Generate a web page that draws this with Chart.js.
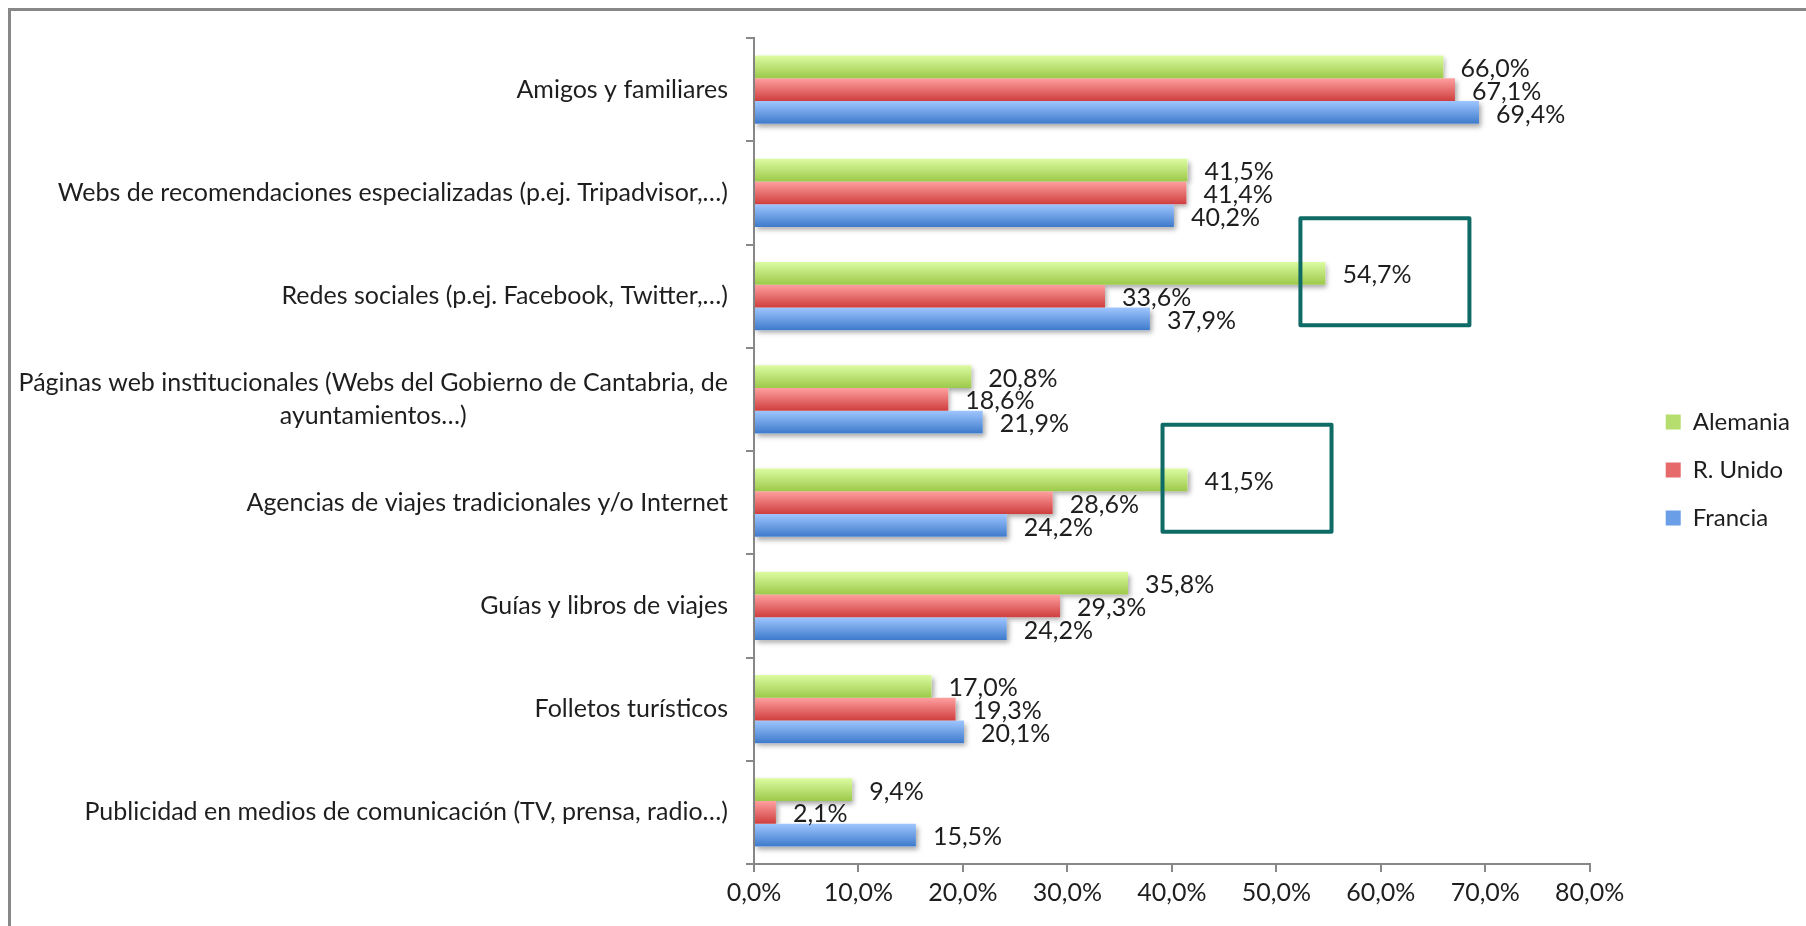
<!DOCTYPE html>
<html>
<head>
<meta charset="utf-8">
<script src="https://cdn.jsdelivr.net/npm/chart.js@4.4.1/dist/chart.umd.min.js"></script>
<style>
  html, body { margin: 0; padding: 0; background: #fff; }
  #wrap { position: relative; width: 1806px; height: 926px; overflow: hidden; }
  #marco { position: absolute; left: 8px; top: 8px; width: 1900px; height: 1000px;
           border-left: 3px solid #878787; border-top: 3px solid #878787; }
  canvas { position: absolute; left: 0; top: 0; }
</style>
</head>
<body>
<div id="wrap">
  <div id="marco"></div>
  <canvas id="grafico" width="1806" height="926"></canvas>
</div>
<script>
const categorias = [
    'Amigos y familiares',
    'Webs de recomendaciones especializadas (p.ej. Tripadvisor,…)',
    'Redes sociales (p.ej. Facebook, Twitter,…)',
    ['Páginas web institucionales (Webs del Gobierno de Cantabria, de', 'ayuntamientos…)'],
    'Agencias de viajes tradicionales y/o Internet',
    'Guías y libros de viajes',
    'Folletos turísticos',
    'Publicidad en medios de comunicación (TV, prensa, radio…)'
];
const alemania   = [66.0, 41.5, 54.7, 20.8, 41.5, 35.8, 17.0, 9.4];
const reinoUnido = [67.1, 41.4, 33.6, 18.6, 28.6, 29.3, 19.3, 2.1];
const francia    = [69.4, 40.2, 37.9, 21.9, 24.2, 24.2, 20.1, 15.5];
const ticksX = [0, 10, 20, 30, 40, 50, 60, 70, 80];
// recuadros verdes: [categoria, serie]
const destacados = [[2, 0], [4, 0]];

// degradado de cada serie: arriba claro, abajo oscuro
const degradados = [
    ['#ddfca2', '#9cc94a'],
    ['#ffa0a0', '#cf3e3e'],
    ['#9fc6ff', '#3d7acb']
];

const fmt = v => v.toFixed(1).replace('.', ',') + '%';
const TEXTO = '#1e1e1e';
const FUENTE = "Lato, 'Open Sans', sans-serif";

Chart.defaults.font.family = FUENTE;
Chart.defaults.color = TEXTO;

// sombra bajo las barras + degradado vertical por barra
const barrasPlugin = {
    id: 'barras',
    beforeDatasetsDraw(chart) {
        const ctx = chart.ctx;
        const metas = chart.getSortedVisibleDatasetMetas();
        metas.forEach(meta => {
            meta.data.forEach(el => {
                const h = el.height;
                ctx.save();
                ctx.shadowColor = 'rgba(0,0,0,0.35)';
                ctx.shadowBlur = 5;
                ctx.shadowOffsetX = 2;
                ctx.shadowOffsetY = 3;
                ctx.fillStyle = '#fff';
                ctx.fillRect(el.base, el.y - h / 2, el.x - el.base, h);
                ctx.restore();
            });
        });
        metas.forEach(meta => {
            const cols = degradados[meta.index];
            meta.data.forEach(el => {
                const g = ctx.createLinearGradient(0, el.y - el.height / 2, 0, el.y + el.height / 2);
                g.addColorStop(0, cols[0]);
                g.addColorStop(1, cols[1]);
                el.options = Object.assign({}, el.options, { backgroundColor: g });
            });
        });
    }
};

// etiquetas de valor, etiquetas del eje y y recuadros
const textosPlugin = {
    id: 'textos',
    afterDraw(chart) {
        const ctx = chart.ctx;
        const area = chart.chartArea;
        const yScale = chart.scales.y;
        ctx.save();
        ctx.fillStyle = TEXTO;
        ctx.font = '25px ' + FUENTE;
        ctx.textBaseline = 'middle';

        // valores
        ctx.textAlign = 'left';
        chart.getSortedVisibleDatasetMetas().forEach(meta => {
            const vals = chart.data.datasets[meta.index].data;
            meta.data.forEach((el, i) => {
                ctx.fillText(fmt(vals[i]), el.x + 17, el.y + 2);
            });
        });

        // categorias
        const derecha = area.left - 26;
        categorias.forEach((lab, i) => {
            const y = yScale.getPixelForValue(i);
            if (Array.isArray(lab)) {
                const ancho = Math.max(...lab.map(l => ctx.measureText(l).width));
                const cx = derecha - ancho / 2;
                const lh = 33;
                ctx.textAlign = 'center';
                lab.forEach((l, k) => {
                    ctx.fillText(l, cx, y + (k - (lab.length - 1) / 2) * lh);
                });
            } else {
                ctx.textAlign = 'right';
                ctx.fillText(lab, derecha, y);
            }
        });

        // recuadros
        ctx.strokeStyle = '#0f6b66';
        ctx.lineWidth = 4;
        ctx.lineJoin = 'round';
        destacados.forEach(([cat, serie]) => {
            const el = chart.getDatasetMeta(serie).data[cat];
            ctx.strokeRect(el.x - 25, el.y - 55, 169, 107);
        });
        ctx.restore();
    }
};

// la leyenda va separada del area de dibujo
const leyendaPlugin = {
    id: 'leyendaPos',
    afterLayout(chart) {
        const lg = chart.legend;
        const pad = lg.options.labels.padding;
        const w = lg.right - lg.left;
        lg.left = chart.chartArea.right + 76 - pad;
        lg.right = lg.left + w;
        lg.top -= 12;
        lg.bottom -= 12;
    }
};

const ctx = document.getElementById('grafico').getContext('2d');
new Chart(ctx, {
    type: 'bar',
    data: {
        labels: categorias,
        datasets: [
            { label: 'Alemania', data: alemania, backgroundColor: '#b5de6e' },
            { label: 'R. Unido', data: reinoUnido, backgroundColor: '#e66a6a' },
            { label: 'Francia', data: francia, backgroundColor: '#6a9ee6' }
        ]
    },
    options: {
        indexAxis: 'y',
        responsive: false,
        animation: false,
        categoryPercentage: 0.663,
        barPercentage: 1,
        layout: { padding: { top: 38, left: 0, right: 58, bottom: 0 } },
        scales: {
            x: {
                min: 0,
                max: 80,
                afterBuildTicks: s => { s.ticks = ticksX.map(v => ({ value: v })); },
                ticks: { callback: v => fmt(v), padding: 6, color: TEXTO, font: { size: 25 } },
                grid: { drawOnChartArea: false, tickLength: 8, color: '#888', lineWidth: 2 },
                border: { color: '#888', width: 2 },
                afterFit: s => { s.height = 62; }
            },
            y: {
                ticks: { display: false },
                grid: { drawOnChartArea: false, tickLength: 8, color: '#888', lineWidth: 2 },
                border: { color: '#888', width: 2 },
                afterFit: s => { s.width = 754; }
            }
        },
        plugins: {
            legend: {
                position: 'right',
                labels: { boxWidth: 15, boxHeight: 15, padding: 24, color: TEXTO, font: { size: 24 } }
            },
            tooltip: { enabled: false }
        }
    },
    plugins: [barrasPlugin, textosPlugin, leyendaPlugin]
});
</script>
</body>
</html>
